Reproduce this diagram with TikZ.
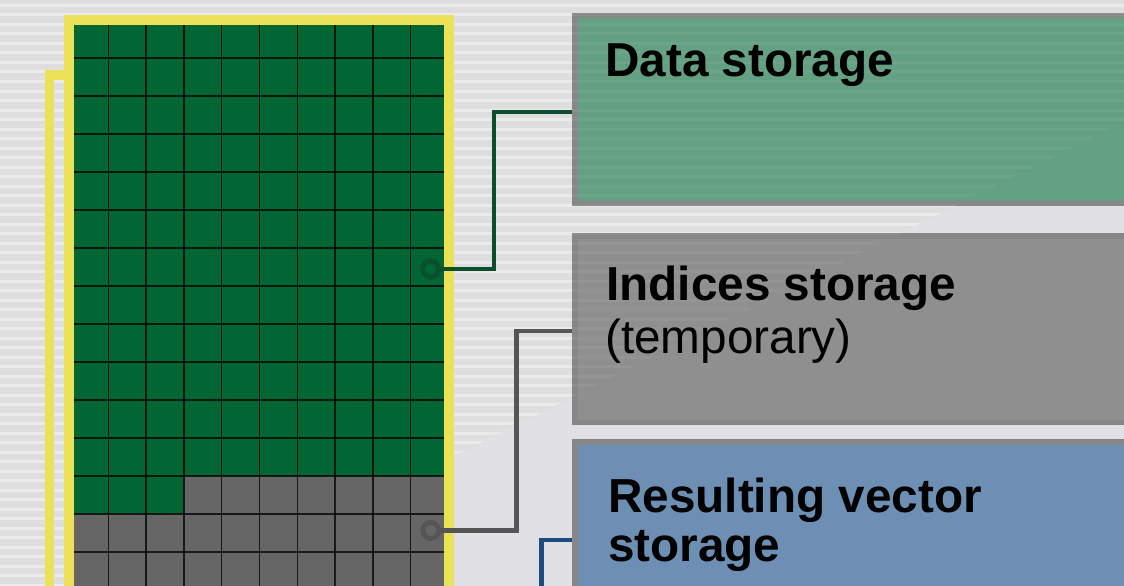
\documentclass[tikz,border=0pt]{standalone}
\usepackage{fontspec}
\setmainfont{Liberation Sans}
\definecolor{bglow}{HTML}{E1E1E5}
\definecolor{bgstripe}{HTML}{DEDEDE}
\definecolor{stripelight}{HTML}{EBEBEB}
\definecolor{yellowline}{HTML}{ECE257}
\definecolor{cellgreen}{HTML}{006633}
\definecolor{cellgray}{HTML}{666666}
\definecolor{boxborder}{HTML}{878787}
\definecolor{boxgreen}{HTML}{64A082}
\definecolor{boxgray}{HTML}{8F8F8F}
\definecolor{boxblue}{HTML}{6E8FB4}
\definecolor{linkgreen}{HTML}{0B4F2D}
\definecolor{linkgray}{HTML}{555555}
\definecolor{linkblue}{HTML}{1F4C7C}
\begin{document}
\begin{tikzpicture}[x=1pt,y=-1pt,
  storebox/.style={draw=boxborder,line width=5.5pt,rectangle,anchor=north west,
    minimum width=600pt,inner sep=0pt},
  ring/.style={circle,draw=#1,line width=5pt,minimum size=16pt,inner sep=0pt},
  link/.style={draw=#1,line width=4.5pt,line join=miter},
  title/.style={anchor=base west,inner sep=0pt,font=\bfseries\fontsize{47.7}{53}\selectfont},
  subtitle/.style={anchor=base west,inner sep=0pt,font=\fontsize{47.7}{53}\selectfont},
  gridline/.style={draw=black,opacity=0.75,line width=1.5pt}]
\clip (0,0) rectangle (1124,586);

% background: plain lower part, striped upper-left triangle
\fill[bglow] (0,0) rectangle (1124,586);
\begin{scope}
  \clip (0,682) -- (1369,0) -- (0,0) -- cycle;
  \fill[bgstripe] (0,0) rectangle (1124,586);
  \foreach \k in {0,...,62}
    \fill[stripelight] (0,{4+9.5*\k}) rectangle (1124,{7+9.5*\k});
\end{scope}

% memory block: cells
\fill[cellgreen] (70.5,20) rectangle (448.5,476);
\fill[cellgreen] (70.5,476) rectangle (183.9,514);
\fill[cellgray] (183.9,476) rectangle (448.5,514);
\fill[cellgray] (70.5,514) rectangle (448.5,600);
\foreach \i in {1,...,9}
  \draw[gridline] ({70.5+37.8*\i},20) -- ({70.5+37.8*\i},600);
\foreach \j in {1,...,15}
  \draw[gridline] (70.5,{20+38*\j}) -- (448.5,{20+38*\j});

% yellow outline and the side rail
\draw[yellowline,line width=10pt,line join=miter] (69,620) -- (69,20) -- (448.5,20) -- (448.5,620);
\draw[yellowline,line width=9pt,line join=miter] (49.5,620) -- (49.5,75) -- (64,75);

% storage boxes
\node[storebox,fill=boxgreen,minimum height=187.5pt] (datab) at (572,13) {};
\node[storebox,fill=boxgray,minimum height=186.5pt] (indb) at (572,233) {};
\node[storebox,fill=boxblue,minimum height=200pt] (resb) at (572,439) {};

% faint stripes over the upper boxes
\begin{scope}
  \clip (0,682) -- (1369,0) -- (0,0) -- cycle;
  \clip (572,13) rectangle (1124,206) (572,233) rectangle (1124,425);
  \foreach \k in {0,...,62}
    \fill[white,opacity=0.05] (0,{4+9.5*\k}) rectangle (1124,{7+9.5*\k});
\end{scope}

% box labels
\node[title] (tdata) at (605,77) {Data storage};
\node[title] (tind) at (606,300) {Indices storage};
\node[subtitle] (ttemp) at (605,353) {(temporary)};
\node[title] (tres) at (608,512) {Resulting vector};
\node[title] (tres2) at (608,561) {storage};

% markers in the block and their connectors
\node[ring=linkgreen] (dotdata) at (430.7,269) {};
\node[ring=linkgray] (dotind) at (430.7,530.5) {};
\coordinate (benddata) at (494,112);
\coordinate (bendind) at (516.5,331);
\coordinate (bendres) at (541.7,540);
\coordinate (railres) at (541.7,600);
\draw[link=linkgreen] (dotdata.east) -| (benddata) -- (benddata -| datab.west);
\draw[link=linkgray] (dotind.east) -| (bendind) -- (bendind -| indb.west);
\draw[link=linkblue] (railres) -- (bendres) -- (bendres -| resb.west);
\end{tikzpicture}
\end{document}
